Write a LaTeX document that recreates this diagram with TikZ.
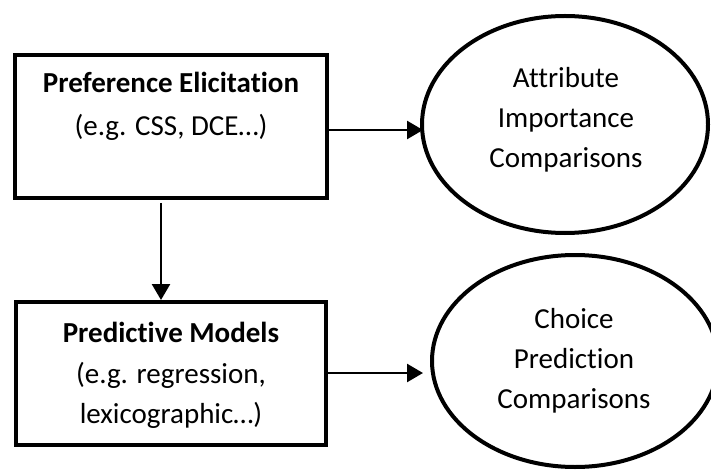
\documentclass[tikz,border=0pt]{standalone}
\usepackage{fontspec}
\setmainfont{Carlito}[Ligatures=NoCommon]
\usetikzlibrary{arrows.meta,shapes.geometric}
\begin{document}
\begin{tikzpicture}[x=1pt,y=-1pt,
  boxstyle/.style={draw, line width=4pt, rectangle, inner sep=0pt},
  ellstyle/.style={draw, line width=4pt, ellipse, inner sep=0pt},
  txt/.style={anchor=base, inner sep=0pt, font=\fontsize{29}{40}\selectfont},
  btxt/.style={txt, font=\fontsize{29}{40}\selectfont\bfseries},
  conn/.style={line width=2.6pt, -{Triangle[length=16pt,width=18pt]}}
]
\useasboundingbox (0,0) rectangle (711,470);
% boxes
\node[boxstyle, minimum width=311.5pt, minimum height=143.3pt] (b1) at (170.75,126.35) {};
\node[boxstyle, minimum width=310pt, minimum height=143pt] (b2) at (171,373.5) {};
% ellipses
\node[ellstyle, minimum width=286pt, minimum height=217pt] (e1) at (565,124.5) {};
\node[ellstyle, minimum width=286pt, minimum height=212pt] (e2) at (575,361) {};
% texts
\node[btxt] (t11) at (171,93) {Preference Elicitation};
\node[txt] (t12) at (171,136) {(e.g. CSS, DCE…)};
\node[btxt] (t21) at (171,342) {Predictive Models};
\node[txt] (t22) at (171,383) {(e.g. regression,};
\node[txt] (t23) at (171,423) {lexicographic…)};
\node[txt] (t31) at (566,88) {Attribute};
\node[txt] (t32) at (566,128) {Importance};
\node[txt] (t33) at (566,168) {Comparisons};
\node[txt] (t41) at (574,328) {Choice};
\node[txt] (t42) at (574,368) {Prediction};
\node[txt] (t43) at (574,408) {Comparisons};
% connector end points
\coordinate (a1s) at (326.5,130);
\coordinate (a1e) at (423,130);
\coordinate (a2s) at (326,373);
\coordinate (a2e) at (423,373);
\coordinate (a3s) at (161,203);
\coordinate (a3e) at (161,300);
\draw[conn] (a1s) -- (a1e);
\draw[conn] (a2s) -- (a2e);
\draw[conn] (a3s) -- (a3e);
\end{tikzpicture}
\end{document}
